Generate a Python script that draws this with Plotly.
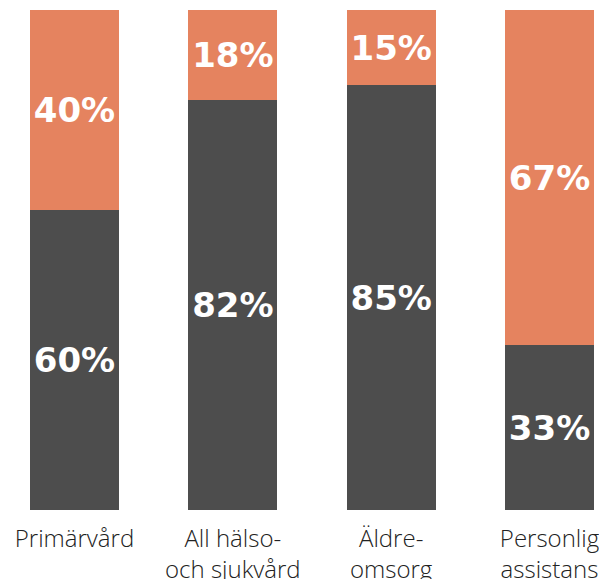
import plotly.graph_objects as go

categories = ["Primärvård", "All hälso-<br>och sjukvård", "Äldre-<br>omsorg", "Personlig<br>assistans"]
dark_values = [60, 82, 85, 33]
orange_values = [40, 18, 15, 67]

dark_color = "#4d4d4d"
orange_color = "#e5835f"

x = list(range(len(categories)))

label_font = dict(family="DejaVu Sans", size=34, color="white", weight="bold")

fig = go.Figure()
fig.add_trace(go.Bar(
    x=x, y=dark_values, marker=dict(color=dark_color, line=dict(width=0)),
    text=[f"{v}%" for v in dark_values], textposition="inside", insidetextanchor="middle",
    textfont=label_font, textangle=0, showlegend=False, hoverinfo="skip",
))
fig.add_trace(go.Bar(
    x=x, y=orange_values, marker=dict(color=orange_color, line=dict(width=0)),
    text=[f"{v}%" for v in orange_values], textposition="inside", insidetextanchor="middle",
    textfont=label_font, textangle=0, showlegend=False, hoverinfo="skip",
))

fig.update_layout(
    barmode="stack",
    bargap=0.438,
    width=599, height=579,
    margin=dict(l=0, r=0, t=10, b=69, autoexpand=False),
    paper_bgcolor="white", plot_bgcolor="white",
    xaxis=dict(
        range=[-0.4705, 3.3126], tickmode="array", tickvals=x, ticktext=categories,
        showgrid=False, zeroline=False, showline=False, ticks="",
        automargin=False, ticklabeloverflow="allow",
        ticklabelstandoff=12,
        tickfont=dict(family="Open Sans", size=24, color="#222222", weight=300),
    ),
    yaxis=dict(range=[0, 100], visible=False, showgrid=False, zeroline=False),
)

fig.write_html(
    "out.html",
    config={"displayModeBar": False},
    post_script="document.body.style.margin='0';document.body.style.overflow='hidden';",
)
